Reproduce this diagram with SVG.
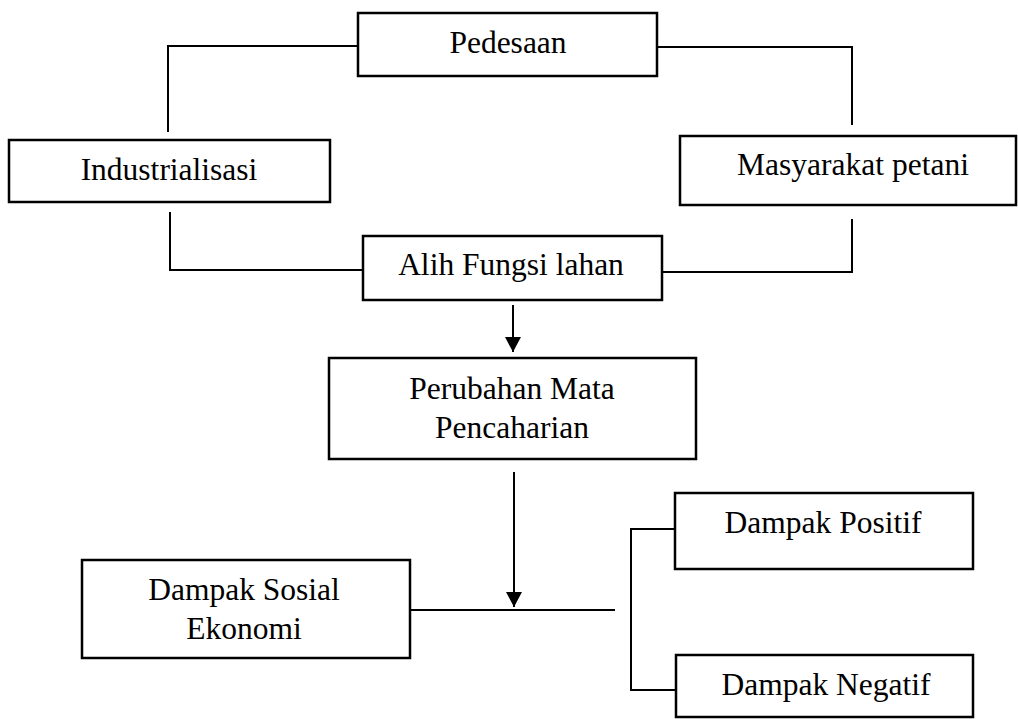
<svg xmlns="http://www.w3.org/2000/svg" width="1018" height="719" viewBox="0 0 1018 719">
<style>
.box{fill:#fff;stroke:#000;stroke-width:2.5}
.ln{fill:none;stroke:#000;stroke-width:2}
text{font-family:"Liberation Serif","Times New Roman",serif;font-size:31.5px;fill:#000;text-anchor:middle}
</style>
<defs>
<marker id="ah" markerWidth="16" markerHeight="16" refX="15" refY="8" orient="auto" markerUnits="userSpaceOnUse">
<path d="M0,0 L15,8 L0,16 Z" fill="#000"/>
</marker>
</defs>
<rect width="1018" height="719" fill="#fff"/>
<g id="connectors">
<polyline class="ln" points="358,46 168,46 168,132"/>
<polyline class="ln" points="657,47 852,47 852,125"/>
<polyline class="ln" points="170,212 170,270 363,270"/>
<polyline class="ln" points="662,272 852,272 852,219"/>
<line class="ln" x1="513" y1="305" x2="513" y2="352" marker-end="url(#ah)"/>
<line class="ln" x1="514" y1="472" x2="514" y2="607" marker-end="url(#ah)"/>
<line class="ln" x1="410" y1="610" x2="615" y2="610"/>
<polyline class="ln" points="675,529 631,529 631,690 675,690"/>
</g>
<g id="pedesaan"><rect class="box" x="358" y="13" width="299" height="63"/><text x="508" y="53">Pedesaan</text></g>
<g id="industrialisasi"><rect class="box" x="9" y="140" width="321" height="62"/><text x="169" y="180">Industrialisasi</text></g>
<g id="masyarakat"><rect class="box" x="680" y="136" width="336" height="69"/><text x="853" y="175">Masyarakat petani</text></g>
<g id="alih"><rect class="box" x="363" y="236" width="299" height="64"/><text x="511" y="275">Alih Fungsi lahan</text></g>
<g id="perubahan"><rect class="box" x="329" y="358" width="367" height="101"/><text x="512" y="399">Perubahan Mata</text><text x="512" y="438">Pencaharian</text></g>
<g id="sosial"><rect class="box" x="82" y="560" width="328" height="98"/><text x="244" y="600">Dampak Sosial</text><text x="244" y="639">Ekonomi</text></g>
<g id="positif"><rect class="box" x="675" y="493" width="298" height="76"/><text x="823" y="533">Dampak Positif</text></g>
<g id="negatif"><rect class="box" x="676" y="655" width="297" height="62"/><text x="826" y="695">Dampak Negatif</text></g>
</svg>
